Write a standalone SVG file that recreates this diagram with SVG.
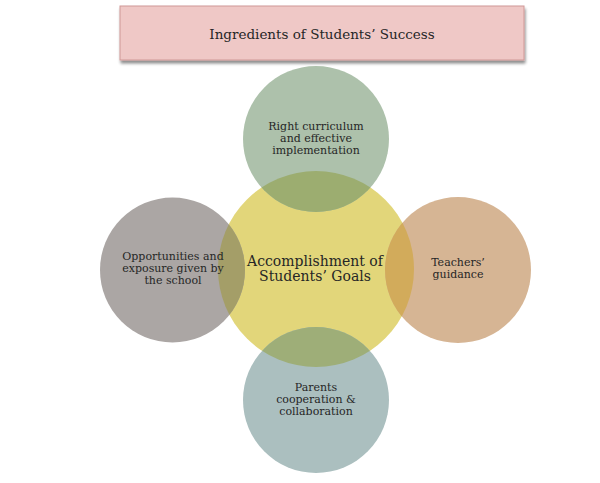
<svg xmlns="http://www.w3.org/2000/svg" width="600" height="483" viewBox="0 0 600 483">
  <defs>
    <filter id="shadow" x="-5%" y="-20%" width="110%" height="150%">
      <feGaussianBlur in="SourceAlpha" stdDeviation="1.6"/>
      <feOffset dx="1" dy="2.5" result="b"/>
      <feComponentTransfer><feFuncA type="linear" slope="0.45"/></feComponentTransfer>
      <feMerge><feMergeNode/><feMergeNode in="SourceGraphic"/></feMerge>
    </filter>
    <clipPath id="clipCenter"><circle cx="316" cy="269" r="98"/></clipPath>
  </defs>
  <style>
    text { font-family: "DejaVu Serif", "Liberation Serif", serif; fill: #262626; text-anchor: middle; }
    .title { font-size: 13.5px; }
    .center { font-size: 14px; }
    .small { font-size: 11px; }
    .overlap { clip-path: url(#clipCenter); }
  </style>
  <rect width="600" height="483" fill="#ffffff"/>

  <g id="title">
    <rect x="120" y="6" width="404" height="54" fill="#efc8c6" stroke="#cf9896" stroke-width="1" filter="url(#shadow)"/>
    <text class="title" x="322" y="39">Ingredients of Students’ Success</text>
  </g>

  <g id="connectors"></g>

  <g id="center-node">
    <circle cx="316" cy="269" r="98" fill="#e2d67a"/>
  </g>

  <g id="node-top">
    <circle cx="316" cy="139" r="73" fill="#adc1ab"/>
    <circle class="overlap" cx="316" cy="139" r="73" fill="#9cad70"/>
    <text class="small" x="316" y="130">Right curriculum</text>
    <text class="small" x="316" y="142">and effective</text>
    <text class="small" x="316" y="154">implementation</text>
  </g>

  <g id="node-left">
    <circle cx="172.5" cy="270" r="72.5" fill="#aba6a4"/>
    <circle class="overlap" cx="172.5" cy="270" r="72.5" fill="#a49e68"/>
    <text class="small" x="173" y="259.5">Opportunities and</text>
    <text class="small" x="173" y="271.5">exposure given by</text>
    <text class="small" x="173" y="283.5">the school</text>
  </g>

  <g id="node-right">
    <circle cx="458" cy="270" r="73" fill="#d6b594"/>
    <circle class="overlap" cx="458" cy="270" r="73" fill="#d2ab5b"/>
    <text class="small" x="458" y="266">Teachers’</text>
    <text class="small" x="458" y="278">guidance</text>
  </g>

  <g id="node-bottom">
    <circle cx="316" cy="400" r="73" fill="#abbfbf"/>
    <circle class="overlap" cx="316" cy="400" r="73" fill="#9eae78"/>
    <text class="small" x="316" y="391">Parents</text>
    <text class="small" x="316" y="403">cooperation &amp;</text>
    <text class="small" x="316" y="415">collaboration</text>
  </g>

  <g id="center-label">
    <text class="center" x="315" y="266">Accomplishment of</text>
    <text class="center" x="315" y="281">Students’ Goals</text>
  </g>
</svg>
